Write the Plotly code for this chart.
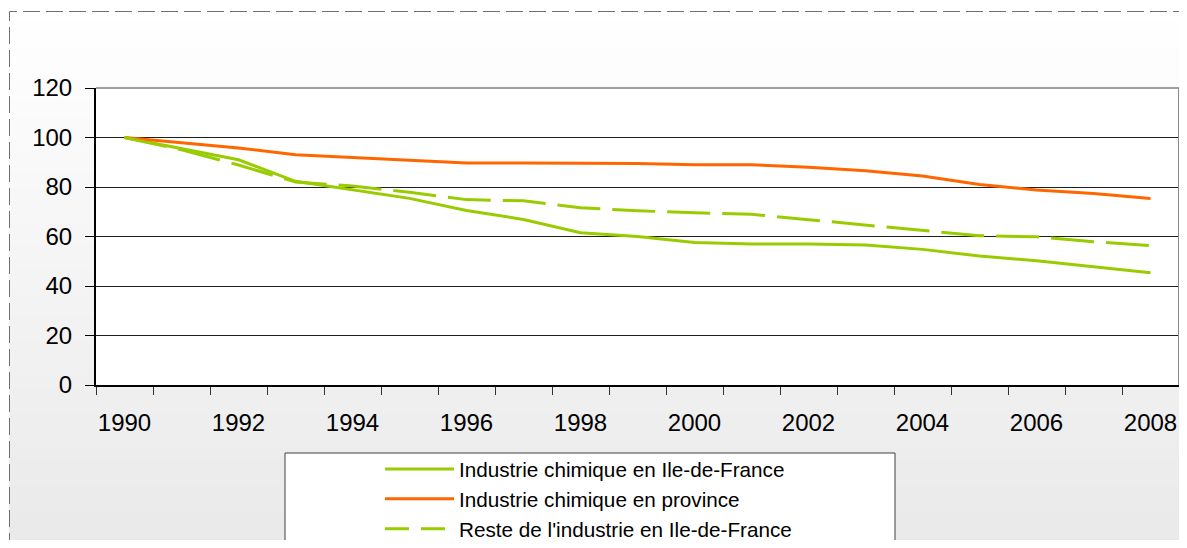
import plotly.graph_objects as go

years = list(range(1990, 2009))
idf_chem = [100, 95.6, 91.0, 82.3, 78.8, 75.4, 70.5, 66.9, 61.5, 60.0, 57.6, 57.0, 57.0, 56.6, 54.8, 52.1, 50.2, 47.8, 45.4]
prov_chem = [100, 97.9, 95.8, 93.0, 92.0, 91.0, 89.7, 89.7, 89.7, 89.5, 89.0, 89.0, 88.0, 86.6, 84.4, 81.0, 78.8, 77.4, 75.4]
idf_other = [100, 95.0, 88.9, 82.0, 80.4, 77.9, 74.9, 74.4, 71.6, 70.4, 69.6, 69.0, 66.8, 64.6, 62.2, 60.3, 59.9, 57.9, 56.3]
names = ["Industrie chimique en Ile-de-France", "Industrie chimique en province",
         "Reste de l'industrie en Ile-de-France"]
y_ticks = [0, 20, 40, 60, 80, 100, 120]
x_tick_years = years[::2]

GREEN = "#99cc00"
ORANGE = "#ff6600"
SW, SH = 1187, 548          # screen size
OFF = 8                     # body margin of the html page
W, H = SW - 2 * OFF, SH - 2 * OFF   # figure size (fits without scrollbars)
L, R, T, B = 96, 1179, 88, 385   # plot area in screen pixels


def px_x(px):
    return (px - L) / (R - L)


def px_y(py):
    return (B - py) / (B - T)


fig = go.Figure()
fig.add_trace(go.Scatter(x=years, y=idf_chem, mode="lines", showlegend=False,
                         line=dict(color=GREEN, width=3)))
fig.add_trace(go.Scatter(x=years, y=prov_chem, mode="lines", showlegend=False,
                         line=dict(color=ORANGE, width=3)))
fig.add_trace(go.Scatter(x=years, y=idf_other, mode="lines", showlegend=False,
                         line=dict(color=GREEN, width=3, dash="43px,12px")))
# legend entries
for nm, col, dsh in zip(names, [GREEN, ORANGE, GREEN], ["solid", "solid", "24px,12px"]):
    fig.add_trace(go.Scatter(x=[None], y=[None], mode="lines", name=nm,
                             line=dict(color=col, width=3, dash=dsh)))

shapes = []
# background gradient
N = 60
top_px, bot_px = 11, SH
for i in range(N):
    y0p = top_px + (bot_px - top_px) * i / N
    y1p = top_px + (bot_px - top_px) * (i + 1) / N + 1
    t = (i + 0.5) / N
    v = int(round(255 - (255 - 233) * t))
    c = f"rgb({v},{v},{v})"
    shapes.append(dict(type="rect", xref="paper", yref="paper", layer="below",
                       x0=px_x(9), x1=px_x(SW + 10), y0=px_y(y1p), y1=px_y(y0p),
                       fillcolor=c, line=dict(width=0)))
# plot area white
shapes.append(dict(type="rect", xref="paper", yref="paper", layer="below",
                   x0=0, x1=1, y0=0, y1=1, fillcolor="white", line=dict(width=0)))
# legend box
shapes.append(dict(type="rect", xref="paper", yref="paper", layer="below",
                   x0=px_x(285), x1=px_x(895), y0=px_y(600), y1=px_y(453),
                   fillcolor="white", line=dict(color="#404040", width=1)))
# outer dashed border
shapes.append(dict(type="rect", xref="paper", yref="paper", layer="above",
                   x0=px_x(9.5), x1=px_x(SW + 20), y0=px_y(SH + 20), y1=px_y(11.5),
                   fillcolor="rgba(0,0,0,0)", line=dict(color="#707070", width=1, dash="17px,6px")))
# plot-area top and right border
shapes.append(dict(type="line", xref="paper", yref="paper", layer="above",
                   x0=0, x1=1, y0=1, y1=1, line=dict(color="#a0a0a0", width=2)))
shapes.append(dict(type="line", xref="paper", yref="paper", layer="above",
                   x0=1, x1=1, y0=0, y1=1, line=dict(color="#8a8a8a", width=2)))

fig.update_layout(
    width=W, height=H,
    margin=dict(l=L - OFF, r=(W + OFF) - R, t=T - OFF, b=(H + OFF) - B, pad=0, autoexpand=False),
    paper_bgcolor="white", plot_bgcolor="white",
    font=dict(family="Liberation Sans, Arial", color="black"),
    shapes=shapes,
    showlegend=True,
    legend=dict(x=px_x(380), y=px_y(449), xanchor="left", yanchor="top",
                bgcolor="rgba(0,0,0,0)", borderwidth=0,
                font=dict(size=20.7, family="Liberation Sans, Arial", color="black"),
                itemwidth=69, tracegroupgap=0),
    xaxis=dict(range=[1989.5, 2008.5], tickmode="array", tickvals=x_tick_years,
               ticktext=[str(y) for y in x_tick_years], ticks="",
               tickfont=dict(size=24), ticklabelstandoff=15, automargin=False,
               showgrid=False, zeroline=False, showline=True, linecolor="black", linewidth=1.5,
               minor=dict(tick0=1989.5, dtick=1, ticks="outside", ticklen=8,
                          tickcolor="#333333", tickwidth=1, showgrid=False)),
    yaxis=dict(range=[0, 120], tickmode="array", tickvals=y_ticks,
               ticks="outside", ticklen=9, tickcolor="black", tickwidth=1,
               tickfont=dict(size=24), ticklabelstandoff=8, automargin=False,
               showgrid=True, gridcolor="#1e1e1e", gridwidth=1,
               zeroline=False, showline=True, linecolor="black", linewidth=2),
)

fig.write_html("out.html")
